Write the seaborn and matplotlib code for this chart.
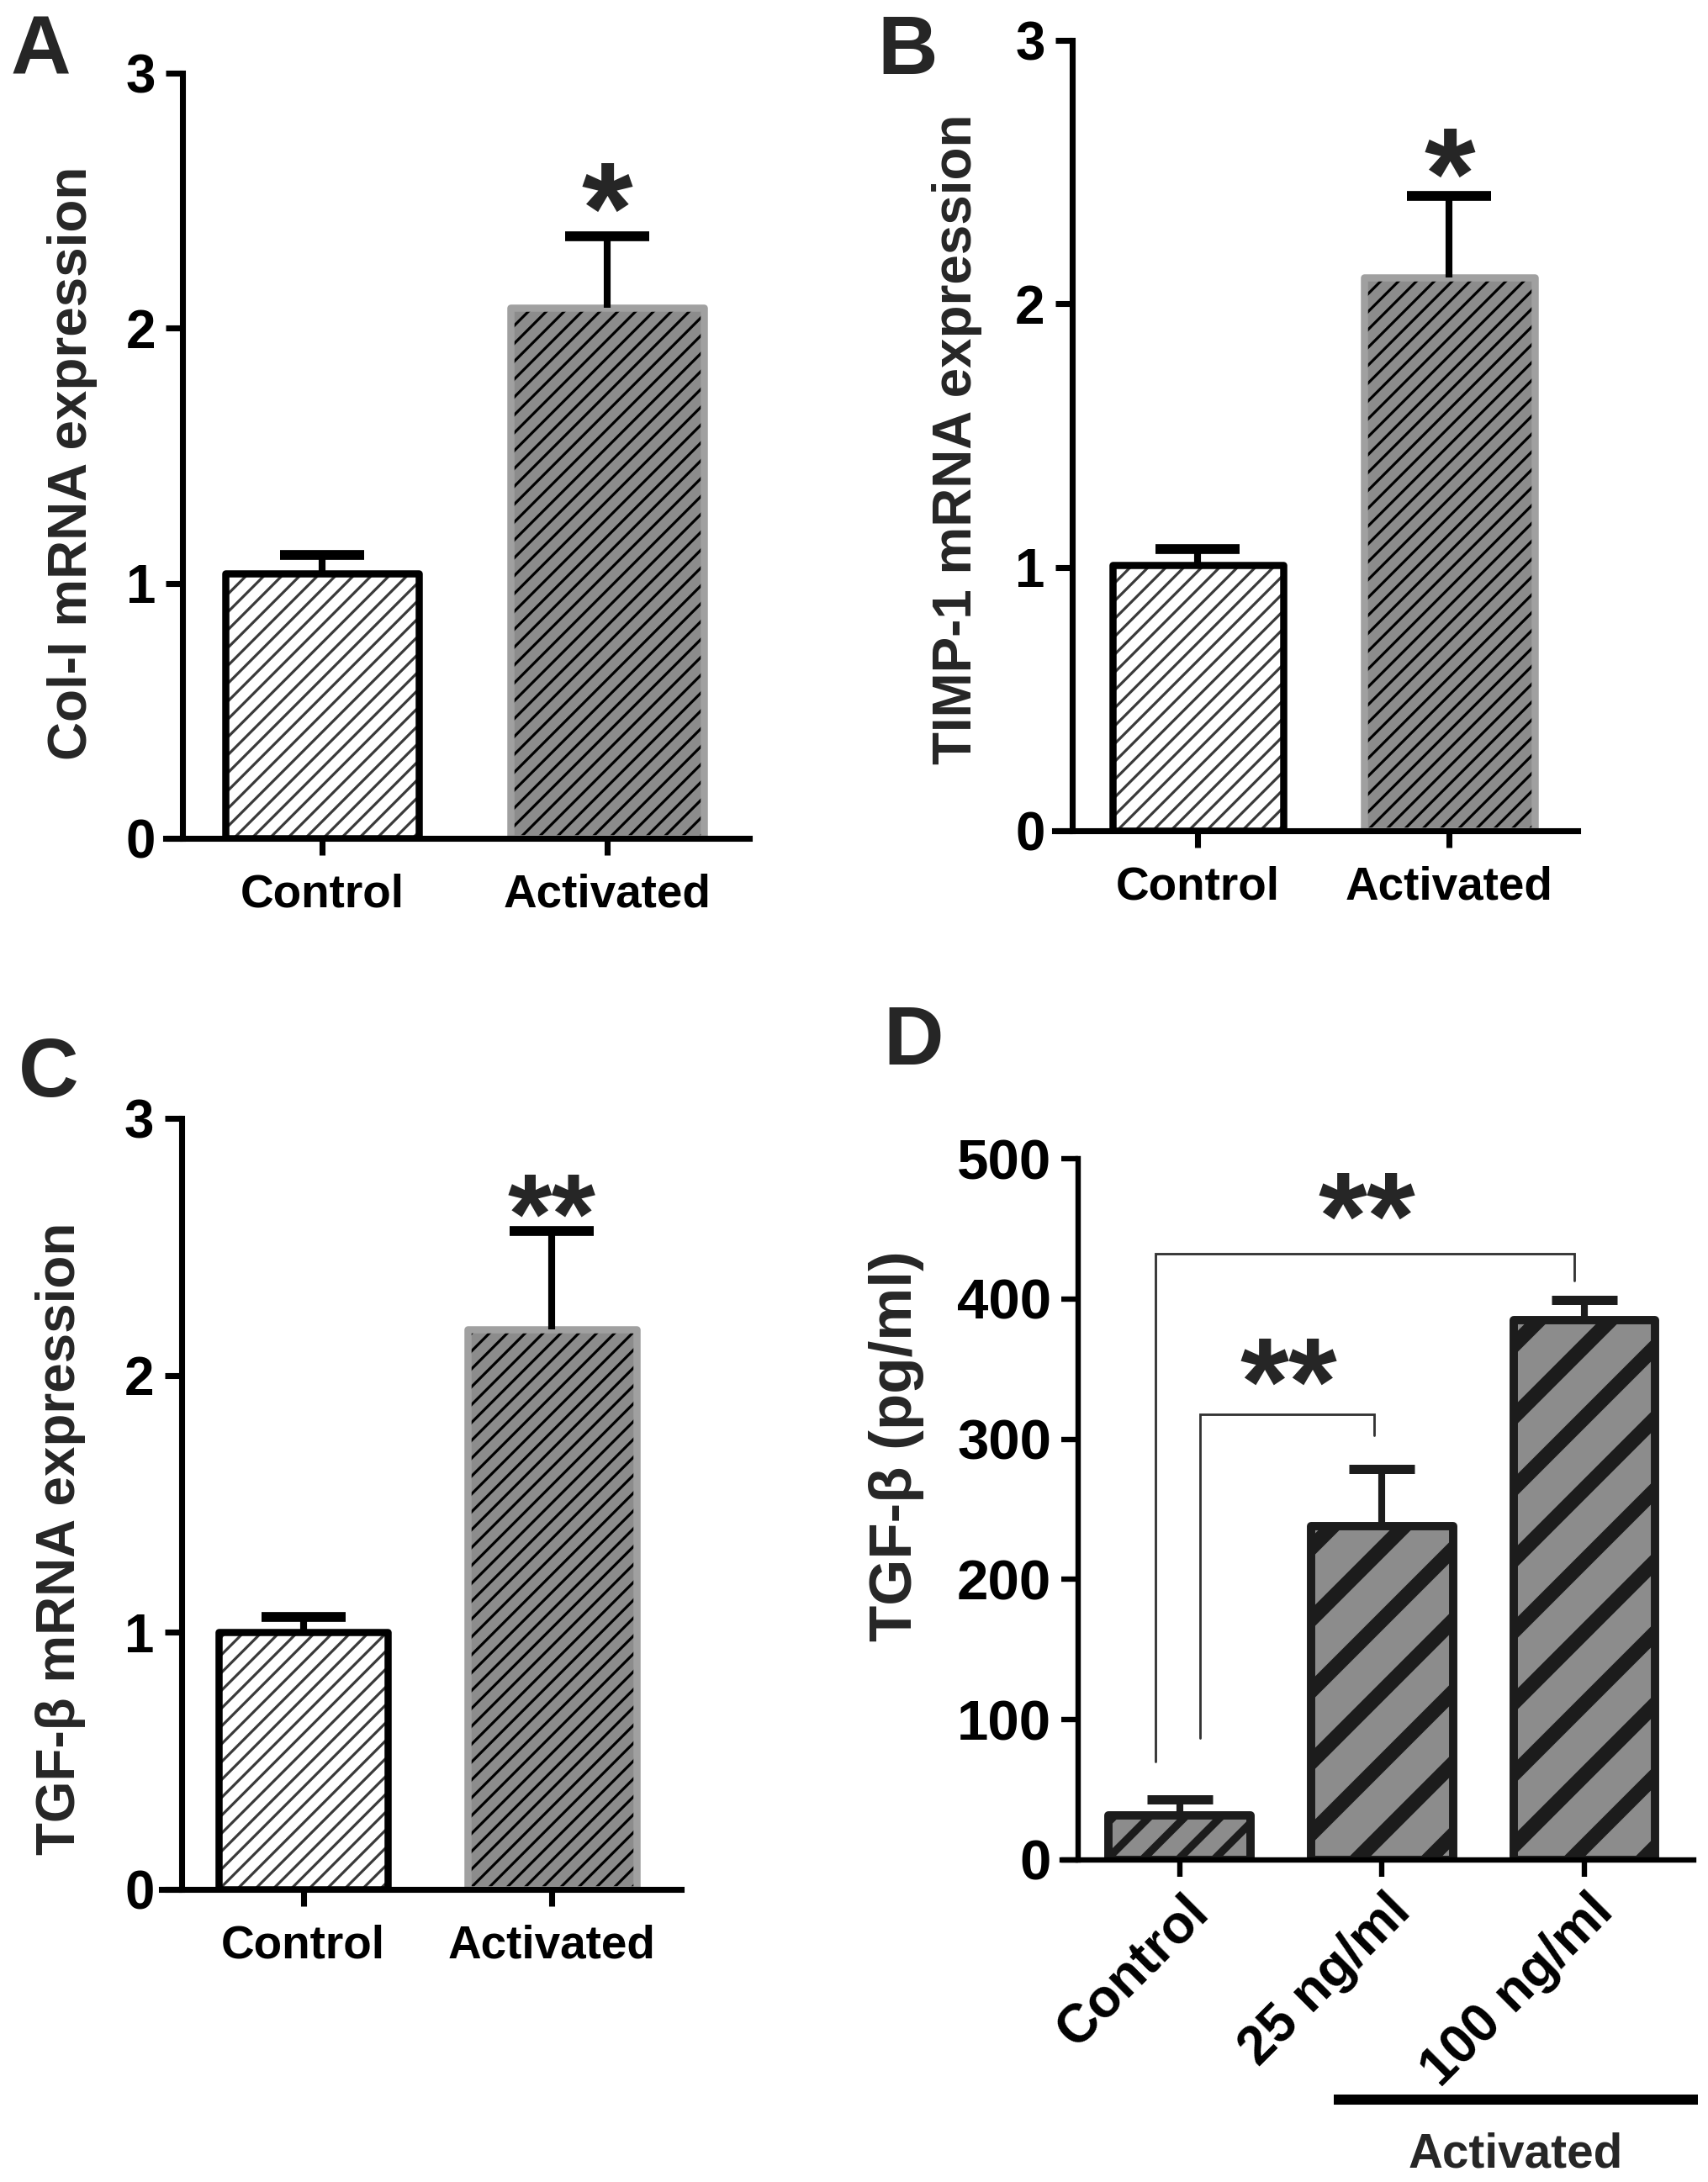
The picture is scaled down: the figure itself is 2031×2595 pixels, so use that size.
import numpy as np
import pandas as pd
import matplotlib
matplotlib.use("Agg")
import matplotlib.pyplot as plt
import matplotlib.transforms as mtransforms
import seaborn as sns
from matplotlib.patches import Rectangle

# ------------------ Data ------------------
groups_ab = ["Control", "Activated"]
col1_mean = [1.04, 2.08]
col1_sem = [0.07, 0.28]
timp1_mean = [1.01, 2.10]
timp1_sem = [0.06, 0.31]
tgfb_mrna_mean = [1.00, 2.18]
tgfb_mrna_sem = [0.06, 0.38]

groups_d = ["Control", "25 ng/ml", "100 ng/ml"]
tgfb_prot_mean = [32, 238, 385]
tgfb_prot_sem = [11, 41, 14]

# ------------------ Style ------------------
sns.set_style("ticks")
plt.rcParams["font.family"] = ["Liberation Sans", "DejaVu Sans"]
plt.rcParams["font.weight"] = "bold"
plt.rcParams["axes.labelweight"] = "bold"

W, H, DPI = 2031, 2595, 255
fig = plt.figure(figsize=(W / DPI, H / DPI), dpi=DPI)


def px_axes(left, right, top, bottom):
    return fig.add_axes([left / W, 1 - bottom / H, (right - left) / W, (bottom - top) / H])


def style_bar(p, face, hatch, hatch_color, hatch_lw, edge, edge_lw):
    p.set_facecolor(face)
    p.set_edgecolor(hatch_color)
    p.set_linewidth(0)
    p.set_hatch(hatch)
    if hasattr(p, "set_hatch_linewidth"):
        p.set_hatch_linewidth(hatch_lw)
    ax = p.axes
    ax.add_patch(Rectangle((p.get_x(), p.get_y()), p.get_width(), p.get_height(),
                           fill=False, edgecolor=edge, linewidth=edge_lw,
                           joinstyle="round", zorder=2.5))


def upper_errorbars(ax, means, sems, color, lw, capsize, capthick):
    n = len(means)
    eb = ax.errorbar(np.arange(n), means, yerr=[np.zeros(n), sems], fmt="none",
                     ecolor=color, elinewidth=lw, capsize=capsize,
                     capthick=capthick, zorder=4)
    # only the upper cap is drawn in the original
    eb[1][0].set_visible(False)


def style_axes(ax, spine_x, xlim, spine_lw, fs_tick):
    sns.despine(ax=ax)
    ax.spines["left"].set_position(("data", spine_x))
    for s in ("left", "bottom"):
        ax.spines[s].set_linewidth(spine_lw)
        ax.spines[s].set_color("black")
    ax.set_xlim(*xlim)
    ax.tick_params(axis="both", direction="out", length=5.6, width=spine_lw,
                   labelsize=fs_tick, colors="black")
    ax.tick_params(axis="y", pad=3.5)
    ax.tick_params(axis="x", pad=6)
    ax.set_xlabel("")


def mrna_panel(ax, means, sems, ylabel, stars, spine_x, xlim, label_pos, star_fs, star_gap):
    df = pd.DataFrame({"group": groups_ab, "value": means})
    sns.barplot(data=df, x="group", y="value", errorbar=None, width=0.68,
                color="white", ax=ax)
    ctrl, act = ax.patches[:2]
    plt.rcParams["hatch.linewidth"] = 0.9
    style_bar(ctrl, "white", "////", "#3a3a3a", 0.9, "black", 2.4)
    style_bar(act, "#8c8c8c", "////", "black", 0.9, "#a0a0a0", 2.4)
    upper_errorbars(ax, means, sems, "black", 2.3, 14, 3.3)
    ax.set_ylim(0, 3)
    ax.set_yticks([0, 1, 2, 3])
    style_axes(ax, spine_x, xlim, 2.0, 15.5)
    ax.tick_params(axis="y", labelsize=18)
    ax.set_ylabel(ylabel, fontsize=18)
    ax.yaxis.set_label_coords(*label_pos)
    ax.yaxis.label.set_va("center")
    top = means[1] + sems[1]
    ax.annotate(stars, xy=(1, top), xytext=(0, star_gap - 0.58 * star_fs),
                textcoords="offset points", ha="center", va="baseline",
                fontsize=star_fs, fontweight="bold")


# ------------------ Panel A ------------------
axA = px_axes(197, 891, 87, 997)
mrna_panel(axA, col1_mean, col1_sem, "Col-I mRNA expression", "*",
           -0.49, (-0.55, 1.50), (-0.16, 0.49), 44, 20)

# ------------------ Panel B ------------------
axB = px_axes(1254, 1876, 48, 988)
mrna_panel(axB, timp1_mean, timp1_sem, "TIMP-1 mRNA expression", "*",
           -0.50, (-0.57, 1.51), (-0.186, 0.495), 44, 18)

# ------------------ Panel C ------------------
axC = px_axes(192, 810, 1330, 2247)
mrna_panel(axC, tgfb_mrna_mean, tgfb_mrna_sem, "TGF-β mRNA expression", "**",
           -0.49, (-0.57, 1.52), (-0.194, 0.455), 38, 15)

# ------------------ Panel D ------------------
axD = px_axes(1263, 2014, 1378, 2212)
dfD = pd.DataFrame({"group": groups_d, "value": tgfb_prot_mean})
sns.barplot(data=dfD, x="group", y="value", errorbar=None, width=0.70,
            color="white", ax=axD)
dark = "#1c1c1c"
for i, p in enumerate(axD.patches[:3]):
    if i == 0:
        style_bar(p, "#8c8c8c", "//", dark, 2.6, dark, 2.8)
    else:
        style_bar(p, "#8c8c8c", "/", dark, 5.0, dark, 2.8)
upper_errorbars(axD, tgfb_prot_mean, tgfb_prot_sem, dark, 2.3, 11, 3.1)
axD.set_ylim(0, 500)
axD.set_yticks([0, 100, 200, 300, 400, 500])
style_axes(axD, -0.50, (-0.58, 2.54), 1.8, 19)
axD.tick_params(axis="x", pad=9, labelsize=18)
shift = mtransforms.ScaledTranslation(7 / 72, 0, fig.dpi_scale_trans)
for lab in axD.get_xticklabels():
    lab.set_rotation(45)
    lab.set_ha("right")
    lab.set_va("center")
    lab.set_rotation_mode("anchor")
    lab.set_transform(lab.get_transform() + shift)
axD.set_ylabel("TGF-β (pg/ml)", fontsize=20)
axD.yaxis.set_label_coords(-0.262, 0.59)
axD.yaxis.label.set_va("center")

# significance brackets
brackets = [(0.10, 0.96, 87, 303, 318, 21), (-0.12, 1.95, 70, 413, 432, 23)]
for x0, x1, f0, f1, top, gap in brackets:
    axD.plot([x0, x0, x1, x1], [f0, top, top, f1], color="#333333", lw=0.8,
             solid_joinstyle="miter", zorder=3)
    axD.annotate("**", xy=((x0 + x1) / 2 + 0.01, top), xytext=(0, gap - 0.58 * 42),
                 textcoords="offset points", ha="center", va="baseline",
                 fontsize=42, fontweight="bold")

# "Activated" grouping line below the rotated labels
trans = mtransforms.blended_transform_factory(axD.transData, axD.transAxes)
axD.plot([0.76, 2.56], [-0.342, -0.342], transform=trans, clip_on=False,
         color="black", lw=3.4, solid_capstyle="butt")
axD.text(1.66, -0.42, "Activated", transform=trans, ha="center", va="center",
         fontsize=16, fontweight="bold")

# ------------------ Panel letters ------------------
for letter, x, y in [("A", 13, 88), ("B", 1043, 88), ("C", 22, 1304), ("D", 1050, 1266)]:
    fig.text(x / W, 1 - y / H, letter, fontsize=28, fontweight="bold",
             ha="left", va="baseline")

fig.savefig("out.png", dpi=DPI, facecolor="white")
